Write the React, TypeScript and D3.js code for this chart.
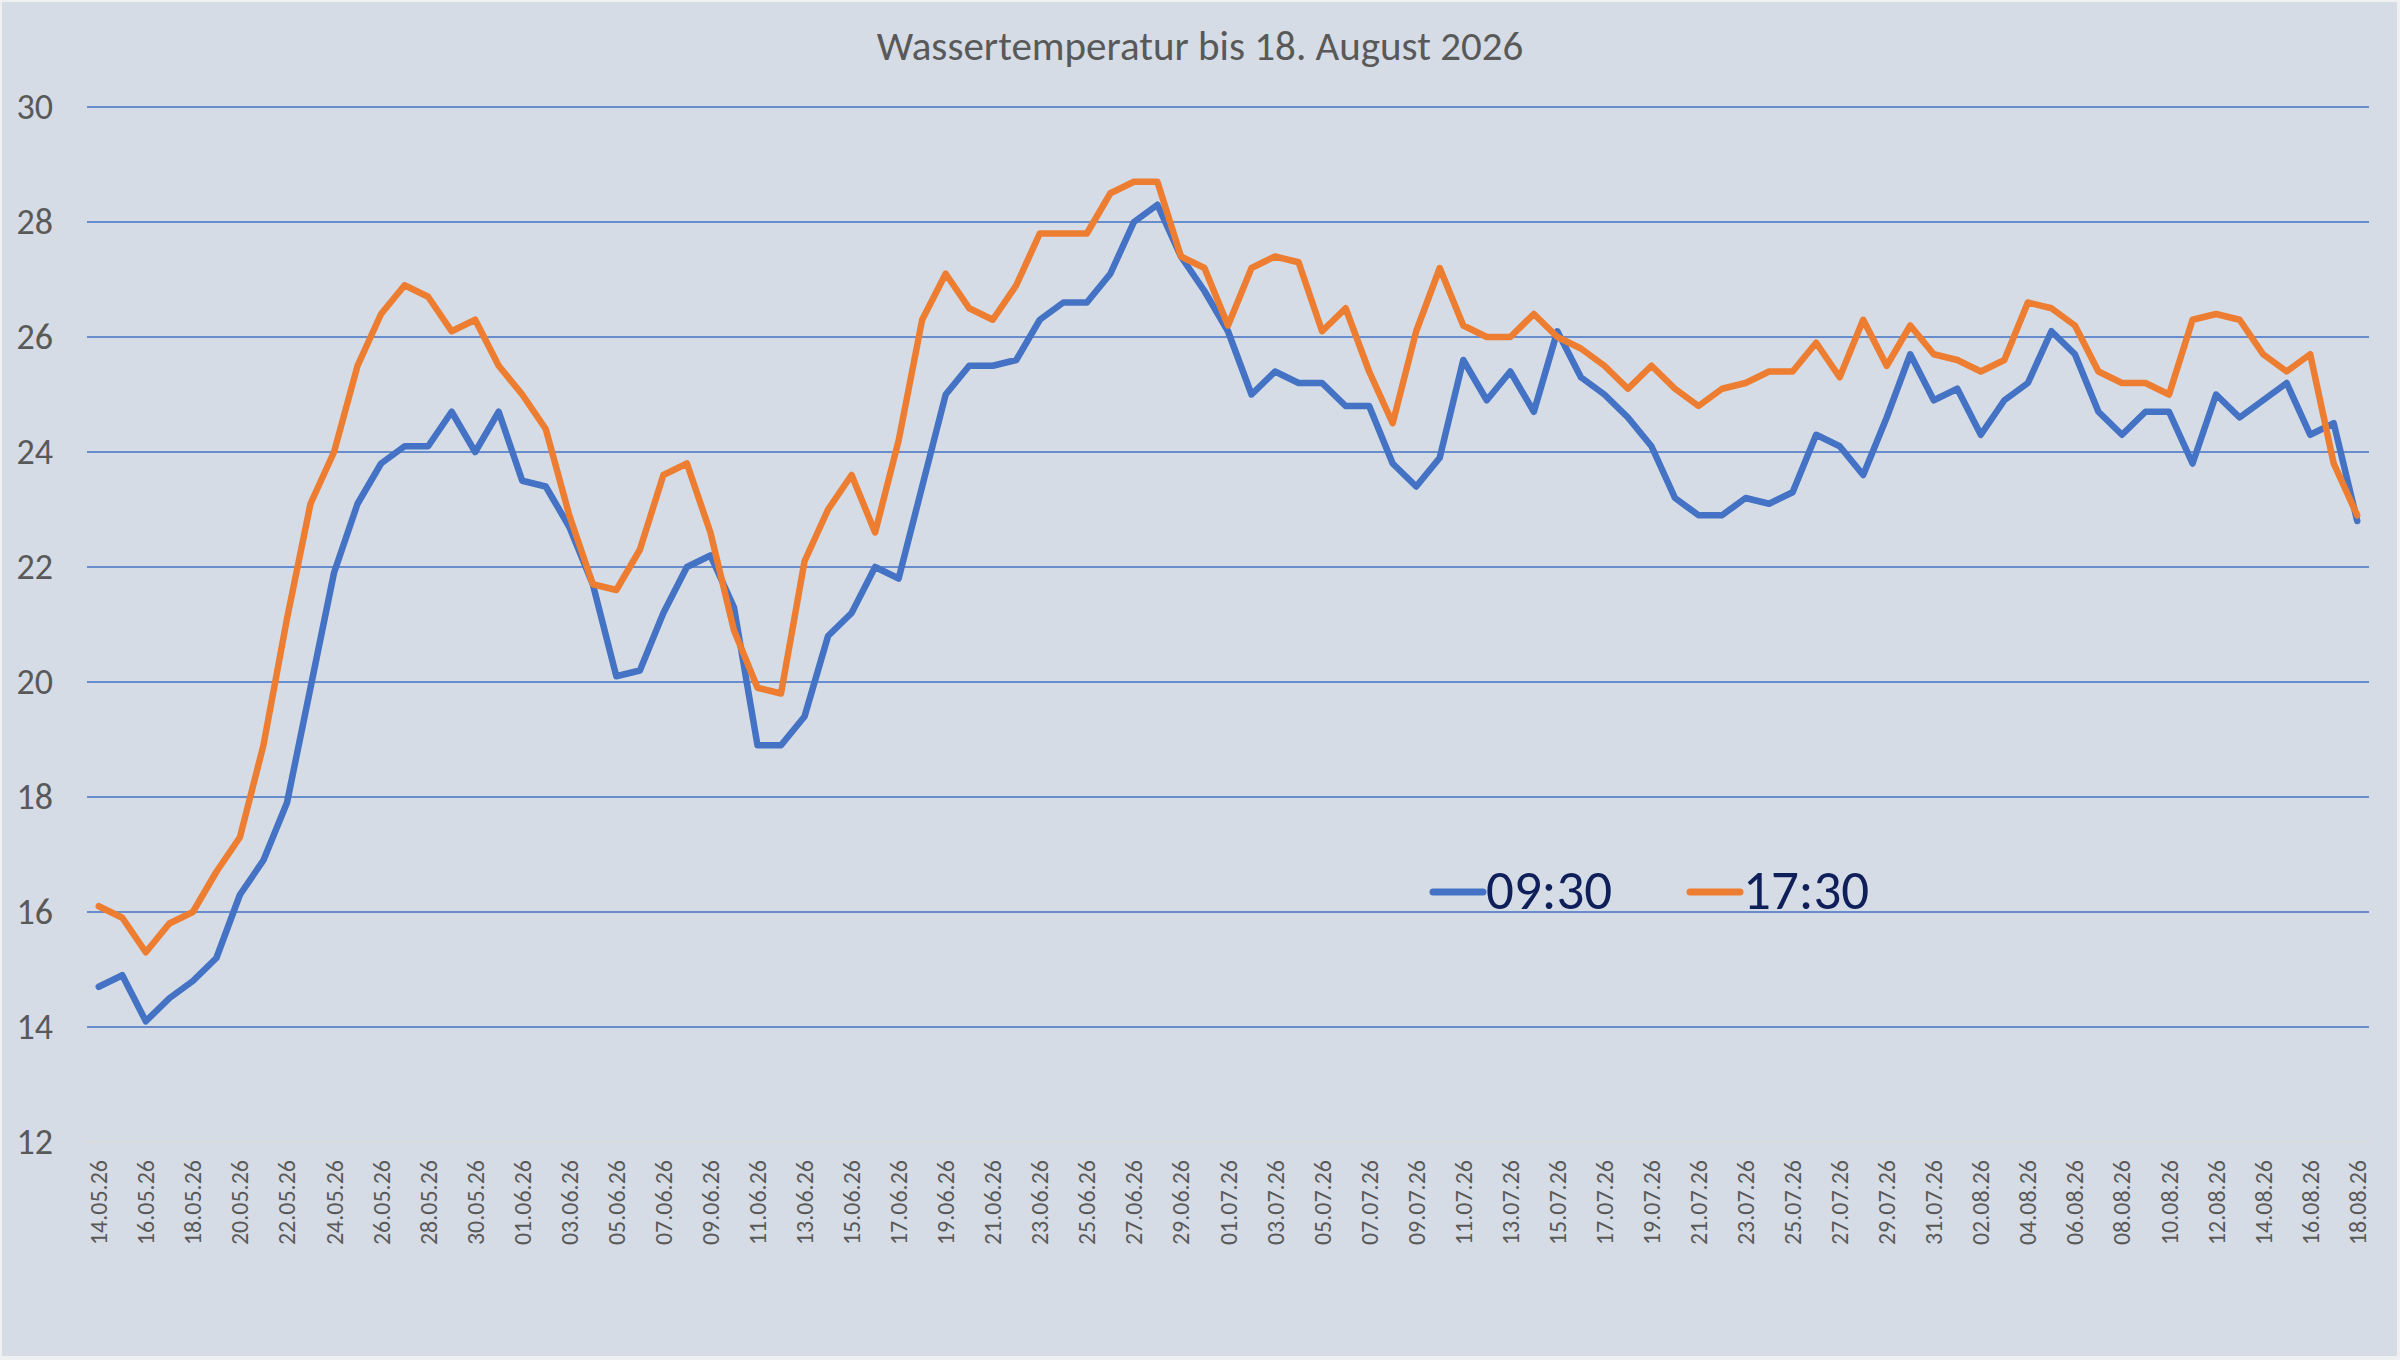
import React, { useEffect } from 'react';
import * as d3 from 'd3';

const W = 2400;
const H = 1360;

const dates = [
  '14.05.26', '15.05.26', '16.05.26', '17.05.26', '18.05.26', '19.05.26', '20.05.26', '21.05.26', '22.05.26',
  '23.05.26', '24.05.26', '25.05.26', '26.05.26', '27.05.26', '28.05.26', '29.05.26', '30.05.26', '31.05.26',
  '01.06.26', '02.06.26', '03.06.26', '04.06.26', '05.06.26', '06.06.26', '07.06.26', '08.06.26', '09.06.26',
  '10.06.26', '11.06.26', '12.06.26', '13.06.26', '14.06.26', '15.06.26', '16.06.26', '17.06.26', '18.06.26',
  '19.06.26', '20.06.26', '21.06.26', '22.06.26', '23.06.26', '24.06.26', '25.06.26', '26.06.26', '27.06.26',
  '28.06.26', '29.06.26', '30.06.26', '01.07.26', '02.07.26', '03.07.26', '04.07.26', '05.07.26', '06.07.26',
  '07.07.26', '08.07.26', '09.07.26', '10.07.26', '11.07.26', '12.07.26', '13.07.26', '14.07.26', '15.07.26',
  '16.07.26', '17.07.26', '18.07.26', '19.07.26', '20.07.26', '21.07.26', '22.07.26', '23.07.26', '24.07.26',
  '25.07.26', '26.07.26', '27.07.26', '28.07.26', '29.07.26', '30.07.26', '31.07.26', '01.08.26', '02.08.26',
  '03.08.26', '04.08.26', '05.08.26', '06.08.26', '07.08.26', '08.08.26', '09.08.26', '10.08.26', '11.08.26',
  '12.08.26', '13.08.26', '14.08.26', '15.08.26', '16.08.26', '17.08.26', '18.08.26',
];

// 09:30
const morning = [
  14.7, 14.9, 14.1, 14.5, 14.8, 15.2, 16.3, 16.9, 17.9, 19.9, 21.9, 23.1, 23.8, 24.1, 24.1, 24.7, 24.0, 24.7,
  23.5, 23.4, 22.7, 21.7, 20.1, 20.2, 21.2, 22.0, 22.2, 21.3, 18.9, 18.9, 19.4, 20.8, 21.2, 22.0, 21.8, 23.4,
  25.0, 25.5, 25.5, 25.6, 26.3, 26.6, 26.6, 27.1, 28.0, 28.3, 27.4, 26.8,
  26.1, 25.0, 25.4, 25.2, 25.2, 24.8, 24.8, 23.8, 23.4, 23.9, 25.6, 24.9, 25.4, 24.7, 26.1, 25.3, 25.0, 24.6,
  24.1, 23.2, 22.9, 22.9, 23.2, 23.1, 23.3, 24.3, 24.1, 23.6, 24.6, 25.7, 24.9,
  25.1, 24.3, 24.9, 25.2, 26.1, 25.7, 24.7, 24.3, 24.7, 24.7, 23.8, 25.0, 24.6, 24.9, 25.2, 24.3, 24.5, 22.8,
];

// 17:30
const evening = [
  16.1, 15.9, 15.3, 15.8, 16.0, 16.7, 17.3, 18.9, 21.1, 23.1, 24.0, 25.5, 26.4, 26.9, 26.7, 26.1, 26.3, 25.5,
  25.0, 24.4, 22.9, 21.7, 21.6, 22.3, 23.6, 23.8, 22.6, 20.9, 19.9, 19.8, 22.1, 23.0, 23.6, 22.6, 24.2, 26.3,
  27.1, 26.5, 26.3, 26.9, 27.8, 27.8, 27.8, 28.5, 28.7, 28.7, 27.4, 27.2,
  26.2, 27.2, 27.4, 27.3, 26.1, 26.5, 25.4, 24.5, 26.1, 27.2, 26.2, 26.0, 26.0, 26.4, 26.0, 25.8, 25.5, 25.1,
  25.5, 25.1, 24.8, 25.1, 25.2, 25.4, 25.4, 25.9, 25.3, 26.3, 25.5, 26.2, 25.7,
  25.6, 25.4, 25.6, 26.6, 26.5, 26.2, 25.4, 25.2, 25.2, 25.0, 26.3, 26.4, 26.3, 25.7, 25.4, 25.7, 23.8, 22.9,
];

const seriesNames = ['09:30', '17:30'];
const seriesColors = ['#4472c4', '#ed7d31'];
const yTicks = [12, 14, 16, 18, 20, 22, 24, 26, 28, 30];

const FONT = 'Carlito, Lato, "Open Sans", sans-serif';

const App: React.FC = () => {
  useEffect(() => {
    document.body.style.margin = '0';
  }, []);

  const x = d3.scalePoint<string>().domain(dates).range([87, 2369]).padding(0.5);
  const y = d3.scaleLinear().domain([12, 30]).range([1142, 107]);

  const line = d3.line<number>()
    .x((_, i) => x(dates[i]) as number)
    .y(d => y(d));

  const series = [morning, evening];

  return (
    <svg width={W} height={H} style={{ display: 'block' }}>
      <rect x={0} y={0} width={W} height={H} fill="#eef0f2" />
      <rect x={2} y={2} width={W - 5} height={H - 6} fill="#d6dce5" />

      <text x={W / 2} y={60} textAnchor="middle" fontFamily={FONT} fontSize={41} fill="#595959">
        Wassertemperatur bis 18. August 2026
      </text>

      {yTicks.map(t => (
        <g key={t}>
          {t > 12 ? (
            <line x1={87} x2={2369} y1={y(t)} y2={y(t)} stroke="#4472c4" strokeWidth={1.6} />
          ) : (
            <line x1={87} x2={2369} y1={y(t)} y2={y(t)} stroke="#dcdcd8" strokeWidth={1.5} />
          )}
          <text x={53} y={y(t)} textAnchor="end" dominantBaseline="central"
            fontFamily={FONT} fontSize={36} fill="#595959">
            {t}
          </text>
        </g>
      ))}

      {dates.map((d, i) => i % 2 === 0 && (
        <text key={d} transform={`translate(${x(d)},1160) rotate(-90)`} textAnchor="end"
          dominantBaseline="central" fontFamily={FONT} fontSize={24} fill="#595959">
          {d}
        </text>
      ))}

      {series.map((s, k) => (
        <path key={k} d={line(s) ?? ''} fill="none" stroke={seriesColors[k]} strokeWidth={6.5}
          strokeLinejoin="round" strokeLinecap="round" />
      ))}

      {seriesNames.map((name, k) => {
        const lx = 1433 + k * 257;
        return (
          <g key={name}>
            <line x1={lx} x2={lx + 50} y1={892} y2={892} stroke={seriesColors[k]} strokeWidth={7}
              strokeLinecap="round" />
            <text x={lx + 53} y={909} fontFamily={FONT} fontSize={55} fill="#0e1f5a">
              {name}
            </text>
          </g>
        );
      })}
    </svg>
  );
};

export default App;
